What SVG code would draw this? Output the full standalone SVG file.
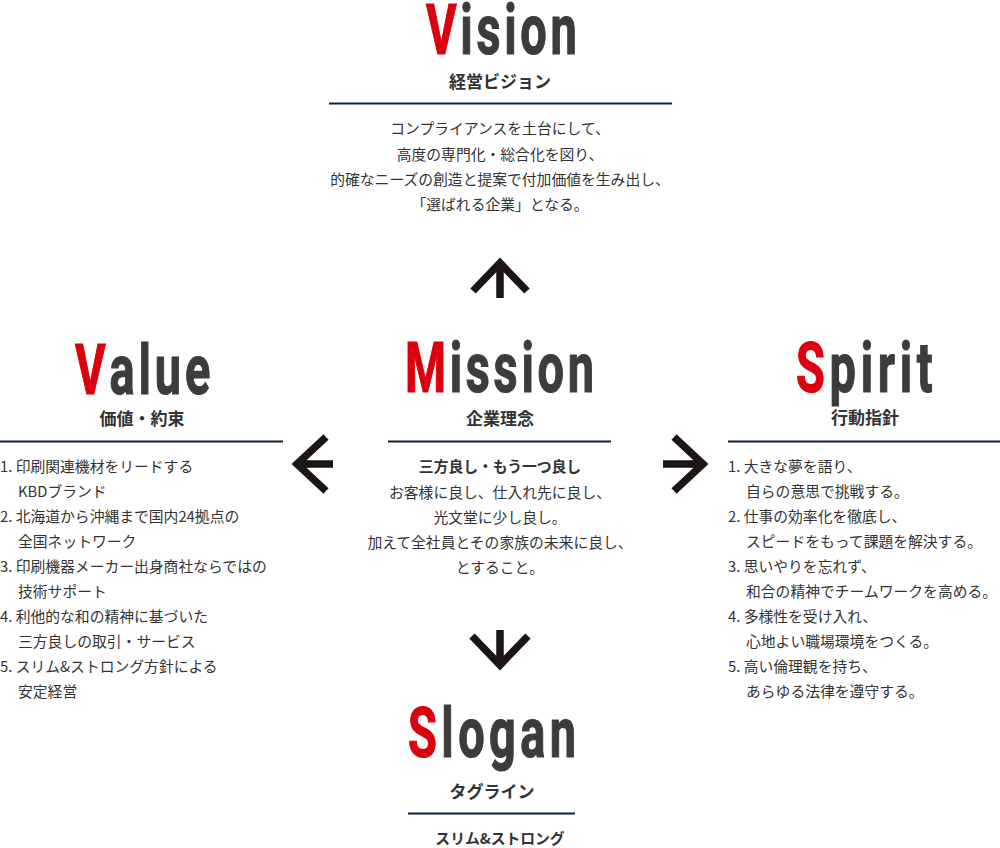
<svg xmlns="http://www.w3.org/2000/svg" width="1000" height="848" viewBox="0 0 1000 848">
<style>
.h{font-family:Roboto,"Liberation Sans",sans-serif;font-weight:700;font-size:70px;fill:#3c3c3c;stroke:#3c3c3c;stroke-width:1.2;stroke-linejoin:miter}
.r{fill:#dc000f;stroke:#dc000f}
.sub{font-family:"Noto Sans CJK JP",sans-serif;font-weight:700;font-size:17px;fill:#333;text-anchor:middle}
.b{font-family:"Noto Sans CJK JP",sans-serif;font-size:14.8px;fill:#333}
.c{text-anchor:middle}
.bb{font-weight:700}
.rule{stroke:#0d1f3d;stroke-width:2}
.arr{fill:none;stroke:#1c1514;stroke-width:7.5;stroke-linejoin:miter;stroke-miterlimit:10}
</style>
<rect width="1000" height="848" fill="#fff"/>
<g id="vision">
<text class="h" transform="translate(426,54.4) scale(0.67,1)" x="0" y="0" textLength="225" lengthAdjust="spacing"><tspan class="r">V</tspan>ision</text>
<text class="sub" x="500" y="88">経営ビジョン</text>
<line class="rule" x1="329" y1="103.5" x2="672" y2="103.5"/>
<g class="b c">
<text x="500" y="134">コンプライアンスを土台にして、</text>
<text x="500" y="160">高度の専門化・総合化を図り、</text>
<text x="500" y="185">的確なニーズの創造と提案で付加価値を生み出し、</text>
<text x="500" y="210">「選ばれる企業」となる。</text>
</g>
</g>
<g id="mission">
<text class="h" transform="translate(405,392.4) scale(0.67,1)" x="0" y="0" textLength="282" lengthAdjust="spacing"><tspan class="r">M</tspan>ission</text>
<text class="sub" x="500" y="425">企業理念</text>
<line class="rule" x1="388" y1="441.5" x2="611" y2="441.5"/>
<g class="b c">
<text class="bb" x="500" y="472">三方良し・もう一つ良し</text>
<text x="500" y="498">お客様に良し、仕入れ先に良し、</text>
<text x="500" y="523">光文堂に少し良し。</text>
<text x="500" y="548">加えて全社員とその家族の未来に良し、</text>
<text x="500" y="573">とすること。</text>
</g>
</g>
<g id="value">
<text class="h" transform="translate(75,394.4) scale(0.67,1)" x="0" y="0" textLength="202" lengthAdjust="spacing"><tspan class="r">V</tspan>alue</text>
<text class="sub" x="142" y="425">価値・約束</text>
<line class="rule" x1="0" y1="441.5" x2="283" y2="441.5"/>
<g class="b">
<text x="0" y="472">1. 印刷関連機材をリードする</text>
<text x="18" y="497">KBDブランド</text>
<text x="0" y="522">2. 北海道から沖縄まで国内24拠点の</text>
<text x="18" y="547">全国ネットワーク</text>
<text x="0" y="572">3. 印刷機器メーカー出身商社ならではの</text>
<text x="18" y="597">技術サポート</text>
<text x="0" y="622">4. 利他的な和の精神に基づいた</text>
<text x="18" y="647">三方良しの取引・サービス</text>
<text x="0" y="672">5. スリム&amp;ストロング方針による</text>
<text x="18" y="697">安定経営</text>
</g>
</g>
<g id="spirit">
<text class="h" transform="translate(796,392.4) scale(0.67,1)" x="0" y="0" textLength="204" lengthAdjust="spacing"><tspan class="r">S</tspan>pirit</text>
<text class="sub" x="865" y="424">行動指針</text>
<line class="rule" x1="728" y1="441.5" x2="1000" y2="441.5"/>
<g class="b">
<text x="728" y="472">1. 大きな夢を語り、</text>
<text x="746" y="497">自らの意思で挑戦する。</text>
<text x="728" y="522">2. 仕事の効率化を徹底し、</text>
<text x="746" y="547">スピードをもって課題を解決する。</text>
<text x="728" y="572">3. 思いやりを忘れず、</text>
<text x="746" y="597">和合の精神でチームワークを高める。</text>
<text x="728" y="622">4. 多様性を受け入れ、</text>
<text x="746" y="647">心地よい職場環境をつくる。</text>
<text x="728" y="672">5. 高い倫理観を持ち、</text>
<text x="746" y="697">あらゆる法律を遵守する。</text>
</g>
</g>
<g id="slogan">
<text class="h" transform="translate(408,757.4) scale(0.67,1)" x="0" y="0" textLength="251" lengthAdjust="spacing"><tspan class="r">S</tspan>logan</text>
<text class="sub" x="492" y="798">タグライン</text>
<line class="rule" x1="408" y1="813.5" x2="575" y2="813.5"/>
<text class="b bb c" x="500" y="844">スリム&amp;ストロング</text>
</g>
<g id="connectors">
<path class="arr" d="M473,291 L500,263 L527,291 M500,263 V298"/>
<path class="arr" d="M326,437 L297,464 L326,491 M297,464 H333"/>
<path class="arr" d="M674,437 L703,464 L674,491 M703,464 H663"/>
<path class="arr" d="M472,636 L500,665 L528,636 M500,665 V630"/>
</g>
</svg>
